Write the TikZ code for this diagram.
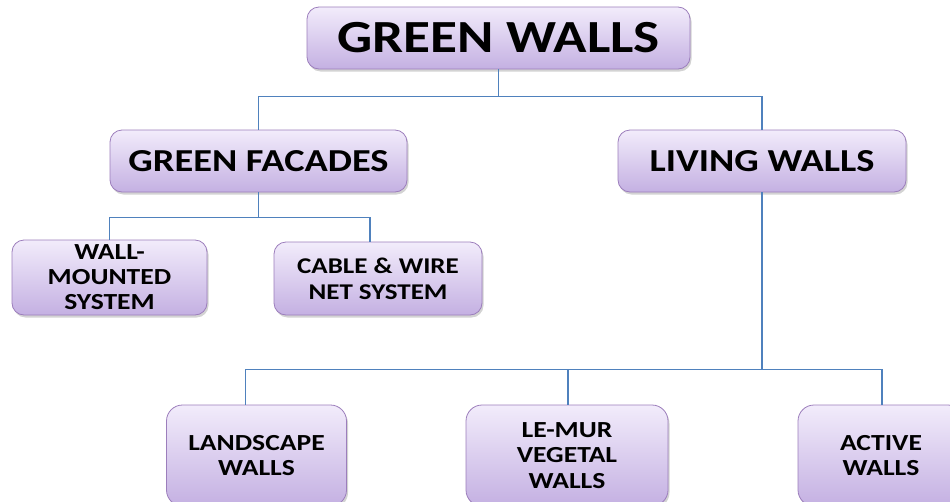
\documentclass[tikz,border=0pt]{standalone}
\usepackage{fontspec}
\newfontfamily\boxfont[FakeStretch=1.2]{Carlito}
\usetikzlibrary{shadows}
\definecolor{boxtop}{RGB}{242,236,251}
\definecolor{boxbot}{RGB}{196,176,226}
\definecolor{boxrim}{RGB}{156,126,188}
\definecolor{linkblue}{RGB}{79,129,189}

\begin{document}
\begin{tikzpicture}[x=1pt,y=-1pt,font=\boxfont\bfseries,
  box/.style={draw=boxrim,line width=.8pt,rounded corners=12pt,top color=boxtop,bottom color=boxbot,
    drop shadow={shadow xshift=1.5pt,shadow yshift=-2.5pt,opacity=.35},inner sep=0pt,align=center},
  link/.style={draw=linkblue,line width=1.1pt}]
\clip (0,0) rectangle (950,501);
\node[box,minimum width=383pt,minimum height=62pt,font=\boxfont\bfseries\fontsize{46}{50}\selectfont] (gw) at (498.5,38) {GREEN WALLS};
\node[box,minimum width=297pt,minimum height=62pt,font=\boxfont\bfseries\fontsize{32}{36}\selectfont] (gf) at (258.5,161) {GREEN FACADES};
\node[box,minimum width=288pt,minimum height=62pt,font=\boxfont\bfseries\fontsize{32}{36}\selectfont] (lw) at (762,161) {LIVING WALLS};
\node[box,minimum width=195pt,minimum height=75pt,font=\boxfont\bfseries\fontsize{23}{25}\selectfont] (wm) at (109.5,277.5) {WALL-\\MOUNTED\\SYSTEM};
\node[box,minimum width=208pt,minimum height=73pt,font=\boxfont\bfseries\fontsize{22.5}{26}\selectfont] (cw) at (378,278.5) {CABLE \& WIRE\\NET SYSTEM};
\foreach \nm/\x/\w/\lab in {ls/256.5/180/{LANDSCAPE\\WALLS},lm/567/202/{LE-MUR\\VEGETAL\\WALLS},aw/881/166/{ACTIVE\\WALLS}}{
 \node[box,rounded corners=16pt,minimum width=\w pt,minimum height=101pt,font=\boxfont\bfseries\fontsize{23}{25.5}\selectfont] (\nm) at (\x,455.5) {\lab};
}
\draw[link] (gw.south) -- ++(0,27) -| (gf.north);
\draw[link] (gw.south) ++(0,27) -| (lw.north);
\draw[link] (gf.south) -- ++(0,25) -| (wm.north);
\draw[link] (gf.south) ++(0,25) -| ([xshift=-8pt]cw.north);
\draw[link] (lw.south) -- ++(0,177) -| ([xshift=-11pt]ls.north);
\draw[link] (lw.south) ++(0,177) -| ([xshift=1pt]lm.north);
\draw[link] (lw.south) ++(0,177) -| ([xshift=1pt]aw.north);
\end{tikzpicture}
\end{document}
